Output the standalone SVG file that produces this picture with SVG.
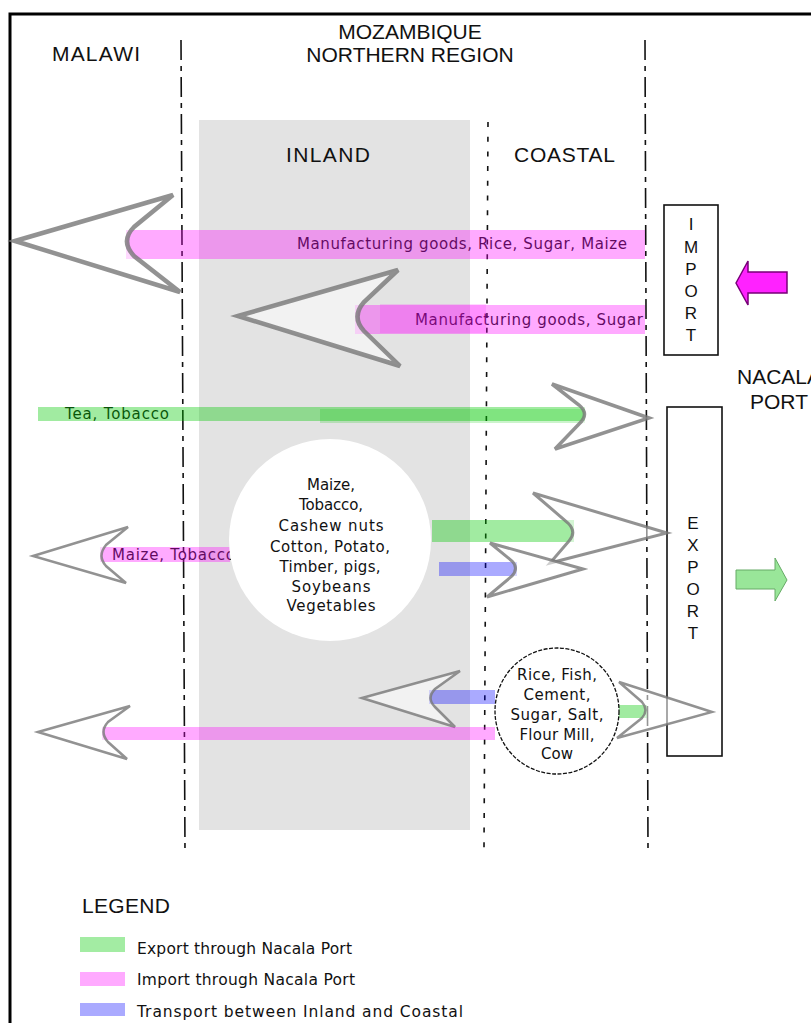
<svg xmlns="http://www.w3.org/2000/svg" width="811" height="1023" viewBox="0 0 811 1023">
<style>
.big{font-family:"Liberation Sans",Arial,sans-serif;font-size:21px;fill:#111}
.sm{font-family:"DejaVu Sans",Verdana,sans-serif;font-size:15px;fill:#111}
.lg{font-family:"DejaVu Sans",Verdana,sans-serif;font-size:15.5px;fill:#111}
.let{font-family:"Liberation Sans",Arial,sans-serif;font-size:17px;fill:#111;text-anchor:middle}
.ddash{stroke:#111;stroke-width:1.6;fill:none;stroke-dasharray:20 6 5 6}
.dot{stroke:#111;stroke-width:1.6;fill:none;stroke-dasharray:5 9.7}
.pink{fill:#ff00ff;fill-opacity:0.333}
.green{fill:#00c800;fill-opacity:0.37}
.blue{fill:#0000ff;fill-opacity:0.333}
.arr{fill:#fff;fill-opacity:0.55;stroke:#777;stroke-opacity:0.8;stroke-linejoin:miter}
.box{fill:#fff;stroke:#111;stroke-width:1.6}
</style>
<rect x="0" y="0" width="811" height="1023" fill="#fff"/>
<rect x="10" y="14" width="900" height="1100" fill="none" stroke="#000" stroke-width="3"/>

<g id="inland-zone">
<rect x="199" y="120" width="271" height="710" fill="#e3e3e3"/>
<text class="big" x="286" y="162" textLength="84">INLAND</text>
</g>
<g id="coastal-zone">
<text class="big" x="514" y="162" textLength="101">COASTAL</text>
</g>
<g id="malawi">
<text class="big" x="52" y="61" textLength="88">MALAWI</text>
</g>
<g id="mozambique">
<text class="big" x="410" y="39" text-anchor="middle">MOZAMBIQUE</text>
<text class="big" x="410" y="62" text-anchor="middle">NORTHERN REGION</text>
</g>
<g id="nacala-port">
<text class="big" x="737" y="384">NACALA</text>
<text class="big" x="750" y="409">PORT</text>
</g>

<g id="boundaries">
<path class="ddash" d="M181,40 L185,852"/>
<path class="ddash" d="M645,40 L648,848"/>
<path class="dot" d="M488,122 L484,848"/>
</g>

<g id="import-box">
<rect class="box" x="664" y="205" width="54" height="150"/>
<text class="let" x="691" y="230">I</text>
<text class="let" x="691" y="253">M</text>
<text class="let" x="691" y="275">P</text>
<text class="let" x="691" y="297">O</text>
<text class="let" x="691" y="319">R</text>
<text class="let" x="691" y="341">T</text>
</g>
<g id="export-box">
<rect class="box" x="667" y="407" width="55" height="349"/>
<text class="let" x="693" y="529">E</text>
<text class="let" x="693" y="551">X</text>
<text class="let" x="693" y="573">P</text>
<text class="let" x="693" y="595">O</text>
<text class="let" x="693" y="617">R</text>
<text class="let" x="693" y="639">T</text>
</g>

<g id="connectors">
<g id="flow-import-malawi">
<text class="sm" x="297" y="249" textLength="330">Manufacturing goods, Rice, Sugar, Maize</text>
<rect class="pink" x="126" y="230" width="519" height="29"/>
<path class="arr" stroke-width="4.5" d="M15,241 L173,195 L134,227 Q120,241 134,256 L180,292 Z"/>
</g>
<g id="flow-import-inland">
<text class="sm" x="415" y="325" textLength="228">Manufacturing goods, Sugar</text>
<rect class="pink" x="355" y="305" width="290" height="29"/>
<rect class="pink" x="380" y="304" width="106" height="29" style="fill-opacity:0.15"/>
<path class="arr" stroke-width="4.5" d="M238,316 L398,270 L364,302 Q351,317 364,331 L400,366 Z"/>
</g>
<g id="flow-export-malawi">
<text class="sm" x="65" y="419" textLength="104">Tea, Tobacco</text>
<rect class="green" x="38" y="407" width="547" height="14"/>
<rect class="green" x="320" y="409" width="265" height="14" style="fill-opacity:0.2"/>
<path class="arr" stroke-width="3.5" d="M649,418 L552,384 L579,405 Q590,414 579,424 L555,449 Z"/>
</g>
<g id="flow-inland-malawi">
<text class="sm" x="112" y="560" textLength="123">Maize, Tobacco</text>
<rect class="pink" x="100" y="547" width="130" height="15"/>
<path class="arr" stroke-width="2.5" d="M33,556 L128,527 L106,545 Q97,556 106,566 L126,583 Z"/>
</g>
<g id="flow-inland-export">
<rect class="green" x="432" y="520" width="142" height="22"/>
<path class="arr" stroke-width="3" d="M667,533 L533,493 L568,523 Q577,532 569,541 L550,563 Z"/>
</g>
<g id="flow-inland-coastal">
<rect class="blue" x="439" y="562" width="78" height="14"/>
<path class="arr" stroke-width="3" d="M583,569 L490,543 L512,561 Q519,568 512,576 L487,597 Z"/>
</g>
<g id="flow-coastal-inland">
<rect class="blue" x="429" y="690" width="66" height="14"/>
<path class="arr" stroke-width="2.5" d="M362,698 L460,671 L435,689 Q426,698 435,707 L455,727 Z"/>
</g>
<g id="flow-coastal-malawi">
<rect class="pink" x="102" y="727" width="393" height="13"/>
<path class="arr" stroke-width="2.5" d="M38,732 L130,706 L108,722 Q99,732 108,742 L127,759 Z"/>
</g>
<g id="flow-coastal-export">
<rect class="green" x="617" y="705" width="30" height="13"/>
<path class="arr" stroke-width="2.5" d="M712,712 L619,682 L642,702 Q649,710 642,718 L617,738 Z"/>
</g>
<g id="import-arrow">
<path d="M736,283 L748,261 L748,272 L787,272 L787,293 L748,293 L748,305 Z" fill="#ff22ff" stroke="#770077" stroke-width="1.5"/>
</g>
<g id="export-arrow">
<path d="M736,570 L775,570 L775,558 L787,580 L775,601 L775,589 L736,589 Z" fill="#99e699" stroke="#66aa66" stroke-width="1"/>
</g>
</g>

<g id="inland-products">
<circle cx="330" cy="540" r="101" fill="#fff"/>
<text class="sm" x="331" y="490" text-anchor="middle" textLength="48">Maize,</text>
<text class="sm" x="331" y="510" text-anchor="middle" textLength="64">Tobacco,</text>
<text class="sm" x="331" y="531" text-anchor="middle" textLength="105">Cashew nuts</text>
<text class="sm" x="330" y="552" text-anchor="middle" textLength="120">Cotton, Potato,</text>
<text class="sm" x="330" y="572" text-anchor="middle" textLength="101">Timber, pigs,</text>
<text class="sm" x="331" y="592" text-anchor="middle" textLength="79">Soybeans</text>
<text class="sm" x="331" y="611" text-anchor="middle" textLength="89">Vegetables</text>
</g>
<g id="coastal-products">
<ellipse cx="557" cy="711" rx="62" ry="63" fill="#fff" stroke="#111" stroke-width="1.3" stroke-dasharray="4 1.5"/>
<text class="sm" x="557" y="680" text-anchor="middle" textLength="80">Rice, Fish,</text>
<text class="sm" x="557" y="700" text-anchor="middle" textLength="67">Cement,</text>
<text class="sm" x="557" y="720" text-anchor="middle" textLength="93">Sugar, Salt,</text>
<text class="sm" x="557" y="740" text-anchor="middle" textLength="75">Flour Mill,</text>
<text class="sm" x="557" y="759" text-anchor="middle" textLength="32">Cow</text>
</g>

<g id="legend">
<text class="big" x="82" y="913" textLength="88">LEGEND</text>
<rect x="80" y="937" width="45" height="15" fill="#a3eca3"/>
<text class="lg" x="137" y="954" textLength="215">Export through Nacala Port</text>
<rect x="80" y="972" width="45" height="14" fill="#ffaaff"/>
<text class="lg" x="137" y="985" textLength="218">Import through Nacala Port</text>
<rect x="80" y="1003" width="45" height="13" fill="#aaaaff"/>
<text class="lg" x="137" y="1017" textLength="326">Transport between Inland and Coastal</text>
</g>
</svg>
